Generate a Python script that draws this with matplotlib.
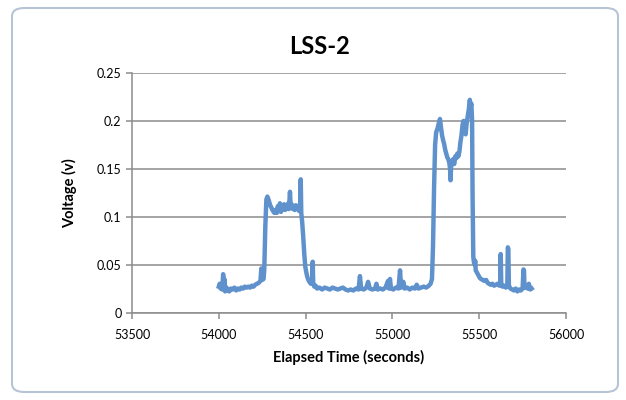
import matplotlib.pyplot as plt
from matplotlib.patches import FancyBboxPatch

plt.rcParams['font.family'] = ['Lato', 'DejaVu Sans']

# elapsed time (s) and voltage (v)
time_s = [
    54000, 54005, 54010, 54015, 54020, 54025, 54028, 54032, 54036, 54040,
    54045, 54050, 54060, 54070, 54080, 54090, 54100, 54110, 54120, 54130,
    54140, 54150, 54160, 54170, 54180, 54190, 54200, 54210, 54220, 54230,
    54240, 54245, 54250, 54258, 54262, 54268, 54274, 54280, 54288, 54296,
    54304, 54312, 54320, 54328, 54334, 54340, 54346, 54352, 54358, 54364,
    54370, 54376, 54382, 54388, 54394, 54400, 54404, 54410, 54414, 54420,
    54426, 54432, 54438, 54444, 54450, 54456, 54462, 54468, 54472, 54475,
    54480, 54486, 54492, 54498, 54504, 54510, 54516, 54522, 54530, 54538,
    54541, 54544, 54550, 54558, 54566, 54580, 54595, 54610, 54625, 54640,
    54655, 54670, 54685, 54700, 54715, 54730, 54745, 54760, 54775, 54790,
    54805, 54813, 54820, 54835, 54850, 54860, 54870, 54885, 54900, 54908,
    54915, 54930, 54945, 54960, 54975, 54980, 54986, 54992, 55005, 55020,
    55035, 55044, 55050, 55063, 55070, 55085, 55100, 55115, 55130, 55140,
    55150, 55165, 55180, 55195, 55210, 55220, 55228, 55234, 55240, 55246,
    55252, 55260, 55268, 55274, 55280, 55286, 55292, 55298, 55304, 55310,
    55316, 55322, 55328, 55332, 55335, 55338, 55344, 55350, 55356, 55362,
    55368, 55374, 55380, 55386, 55392, 55398, 55404, 55410, 55416, 55422,
    55428, 55434, 55440, 55446, 55450, 55455, 55459, 55462, 55466, 55470,
    55474, 55477, 55480, 55486, 55492, 55498, 55504, 55510, 55520, 55530,
    55540, 55548, 55556, 55566, 55576, 55586, 55596, 55606, 55616, 55621,
    55624, 55627, 55634, 55644, 55654, 55662, 55665, 55668, 55671, 55680,
    55690, 55700, 55710, 55720, 55730, 55740, 55750, 55755, 55758, 55761,
    55770, 55778, 55786, 55794, 55802,
]
voltage_v = [
    0.027, 0.030, 0.025, 0.028, 0.024, 0.040, 0.026, 0.035, 0.022, 0.027,
    0.023, 0.025, 0.022, 0.025, 0.024, 0.026, 0.023, 0.025, 0.024, 0.026,
    0.025, 0.027, 0.026, 0.027, 0.026, 0.028, 0.027, 0.029, 0.030, 0.031,
    0.033, 0.046, 0.034, 0.035, 0.045, 0.090, 0.118, 0.121, 0.117, 0.112,
    0.109, 0.106, 0.104, 0.107, 0.104, 0.111, 0.106, 0.114, 0.105, 0.110,
    0.108, 0.113, 0.107, 0.112, 0.109, 0.114, 0.108, 0.126, 0.110, 0.113,
    0.108, 0.111, 0.107, 0.112, 0.109, 0.111, 0.106, 0.108, 0.139, 0.104,
    0.095, 0.080, 0.062, 0.048, 0.042, 0.037, 0.034, 0.032, 0.030, 0.031,
    0.053, 0.030, 0.027, 0.028, 0.025, 0.026, 0.024, 0.026, 0.025, 0.024,
    0.026, 0.025, 0.024, 0.025, 0.026, 0.024, 0.023, 0.024, 0.023, 0.025,
    0.024, 0.038, 0.025, 0.024, 0.026, 0.032, 0.025, 0.024, 0.025, 0.030,
    0.024, 0.025, 0.024, 0.026, 0.033, 0.025, 0.035, 0.025, 0.024, 0.026,
    0.025, 0.044, 0.026, 0.032, 0.025, 0.026, 0.024, 0.026, 0.025, 0.029,
    0.025, 0.026, 0.027, 0.026, 0.028, 0.030, 0.035, 0.070, 0.130, 0.175,
    0.188, 0.192, 0.198, 0.202, 0.193, 0.185, 0.180, 0.176, 0.170, 0.166,
    0.162, 0.160, 0.156, 0.150, 0.138, 0.152, 0.158, 0.160, 0.155, 0.163,
    0.161, 0.166, 0.163, 0.168, 0.178, 0.185, 0.196, 0.200, 0.192, 0.186,
    0.198, 0.205, 0.212, 0.222, 0.215, 0.218, 0.200, 0.120, 0.058, 0.052,
    0.050, 0.054, 0.044, 0.042, 0.040, 0.038, 0.036, 0.035, 0.034, 0.033,
    0.034, 0.031, 0.030, 0.029, 0.030, 0.028, 0.029, 0.030, 0.028, 0.030,
    0.061, 0.030, 0.027, 0.028, 0.026, 0.028, 0.068, 0.066, 0.028, 0.025,
    0.024, 0.023, 0.025, 0.022, 0.024, 0.023, 0.025, 0.045, 0.044, 0.026,
    0.028, 0.025, 0.030, 0.024, 0.025,
]

x_ticks = [53500, 54000, 54500, 55000, 55500, 56000]
y_ticks = [0, 0.05, 0.1, 0.15, 0.2, 0.25]
y_labels = ['0', '0.05', '0.1', '0.15', '0.2', '0.25']

fig = plt.figure(figsize=(6.26, 4.0), dpi=100)
fig.patch.set_facecolor('white')

# chart frame like the spreadsheet chart object
frame = FancyBboxPatch((12 / 626, 8 / 400), 606 / 626, 384 / 400,
                       boxstyle='round,pad=0,rounding_size=0.02',
                       transform=fig.transFigure, facecolor='white',
                       edgecolor='#B7C4D6', linewidth=1.5, zorder=-5)
fig.patches.append(frame)

ax = fig.add_axes([132 / 626, 1 - 312.5 / 400, 434 / 626, 239.5 / 400])
ax.set_zorder(2)
ax.set_facecolor('none')
ax.plot(time_s, voltage_v, color='#5F92CC', linewidth=3.2, solid_joinstyle='round', zorder=3)

ax.set_xlim(53500, 56000)
ax.set_ylim(0, 0.25)
ax.set_xticks(x_ticks)
ax.set_xticklabels([str(t) for t in x_ticks])
ax.set_yticks(y_ticks)
ax.set_yticklabels(y_labels)
ax.grid(axis='y', color='#8C8C8C', linewidth=1.1)
ax.set_axisbelow(True)

for side in ['top', 'right']:
    ax.spines[side].set_visible(False)
for side in ['left', 'bottom']:
    ax.spines[side].set_color('#8C8C8C')
    ax.spines[side].set_linewidth(1.1)
ax.tick_params(axis='both', colors='#8C8C8C', labelcolor='black', labelsize=9, length=4, width=1.1)
ax.tick_params(axis='x', pad=8)

ax.set_xlabel('Elapsed Time (seconds)', fontsize=10.5, fontweight='bold', labelpad=6)
ax.set_ylabel('Voltage (v)', fontsize=10.5, fontweight='bold', labelpad=14)
fig.text(320 / 626, 1 - 47 / 400, 'LSS-2', fontsize=17, fontweight='bold',
         ha='center', va='center')

fig.savefig('out.png', dpi=100)
